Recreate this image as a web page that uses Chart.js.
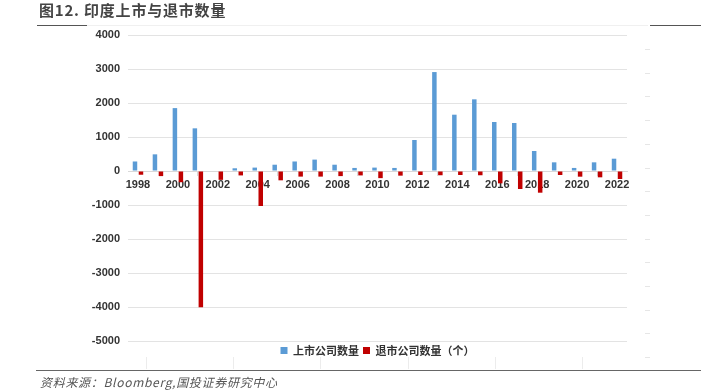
<!DOCTYPE html>
<html>
<head>
<meta charset="utf-8">
<script src="https://cdn.jsdelivr.net/npm/chart.js@4/dist/chart.umd.min.js"></script>
<style>
  html, body { margin: 0; padding: 0; background: #fff; }
  body { width: 703px; height: 392px; position: relative; overflow: hidden; }
  #wrap { position: absolute; left: 0; top: 0; width: 703px; height: 392px; }
  .title { position: absolute; left: 39px; top: 2px; font: bold 15px "Noto Sans CJK SC", sans-serif; line-height: 16px; color: #444; letter-spacing: 0.8px; white-space: nowrap; }
  .src { position: absolute; left: 40px; top: 374px; font: italic 12px "Noto Sans CJK SC", sans-serif; line-height: 16px; color: #555; letter-spacing: 0.7px; white-space: nowrap; }
  .ln { position: absolute; }
</style>
</head>
<body>
<div id="wrap"><canvas id="c" width="703" height="392"></canvas></div>
<div class="title">图12. 印度上市与退市数量</div>
<div class="ln" style="left:37px;top:25px;width:50px;height:1px;background:#555;"></div>
<div class="ln" style="left:87px;top:25px;width:561px;height:1px;background:#f0f0f0;"></div>
<div class="ln" style="left:650px;top:25px;width:51px;height:1px;background:#555;"></div>
<div class="ln" style="left:36px;top:370px;width:665px;height:1px;background:#666;"></div>
<div id="deco"></div>
<div class="src">资料来源：Bloomberg,国投证券研究中心</div>
<script>
// ---- data ----
const years = ['1998','1999','2000','2001','2002','2003','2004','2005','2006','2007','2008','2009','2010','2011','2012','2013','2014','2015','2016','2017','2018','2019','2020','2021','2022'];
const listed = [280, 490, 1850, 1255, 0, 80, 100, 185, 280, 335, 185, 90, 100, 90, 912, 2910, 1656, 2108, 1441, 1411, 588, 255, 90, 255, 362];
const delisted = [-110, -150, -330, -4010, -260, -130, -1030, -274, -165, -165, -150, -130, -210, -137, -118, -125, -118, -125, -363, -530, -638, -118, -167, -186, -235];
const seriesNames = ['上市公司数量', '退市公司数量（个）'];
const yMin = -5000, yMax = 4000, yStep = 1000;

// faint page decorations (not chart data)
(function(){
  const d = document.getElementById('deco');
  let h = '';
  for (let i = 0; i < 14; i++) {
    const y = Math.round(49 + i * 23.7);
    h += '<div class="ln" style="left:645px;top:' + y + 'px;width:5px;height:1px;background:#e6e6e6;"></div>';
  }
  [146, 233, 320, 408, 495, 582].forEach(x => {
    h += '<div class="ln" style="left:' + x + 'px;top:357px;width:1px;height:12px;background:#ececec;"></div>';
  });
  d.innerHTML = h;
})();

new Chart(document.getElementById('c'), {
  type: 'bar',
  data: {
    labels: years,
    datasets: [
      { label: seriesNames[0], data: listed, backgroundColor: '#5B9BD5', categoryPercentage: 0.6, barPercentage: 0.75 },
      { label: seriesNames[1], data: delisted, backgroundColor: '#C00000', categoryPercentage: 0.6, barPercentage: 0.75 }
    ]
  },
  options: {
    responsive: false,
    animation: false,
    layout: { padding: { left: 0, right: 76, top: 35, bottom: 26 } },
    plugins: {
      tooltip: { enabled: false },
      legend: {
        position: 'bottom',
        fullSize: false,
        labels: {
          boxWidth: 7, boxHeight: 7, padding: 4,
          color: '#333',
          font: { family: '"Noto Sans CJK SC", sans-serif', size: 11, weight: 'bold' }
        }
      }
    },
    scales: {
      x: {
        position: { y: 0 },
        afterFit: (s) => { s.height = 0; },
        grid: { drawOnChartArea: false, drawTicks: true, tickLength: 4, color: '#d9d9d9', offset: true },
        border: { display: true, color: '#d9d9d9' },
        ticks: {
          autoSkip: true, maxTicksLimit: 13, maxRotation: 0, minRotation: 0, padding: 3,
          color: '#333',
          font: { family: '"Liberation Sans", Arial, sans-serif', size: 11, weight: 'bold' }
        }
      },
      y: {
        min: yMin, max: yMax,
        afterFit: (s) => { s.width = 128; },
        grid: { color: '#e3e3e3', drawTicks: false },
        border: { display: false },
        ticks: {
          stepSize: yStep, padding: 8,
          callback: (v) => String(v),
          color: '#333',
          font: { family: '"Liberation Sans", Arial, sans-serif', size: 11, weight: 'bold' }
        }
      }
    }
  }
});
</script>
</body>
</html>
